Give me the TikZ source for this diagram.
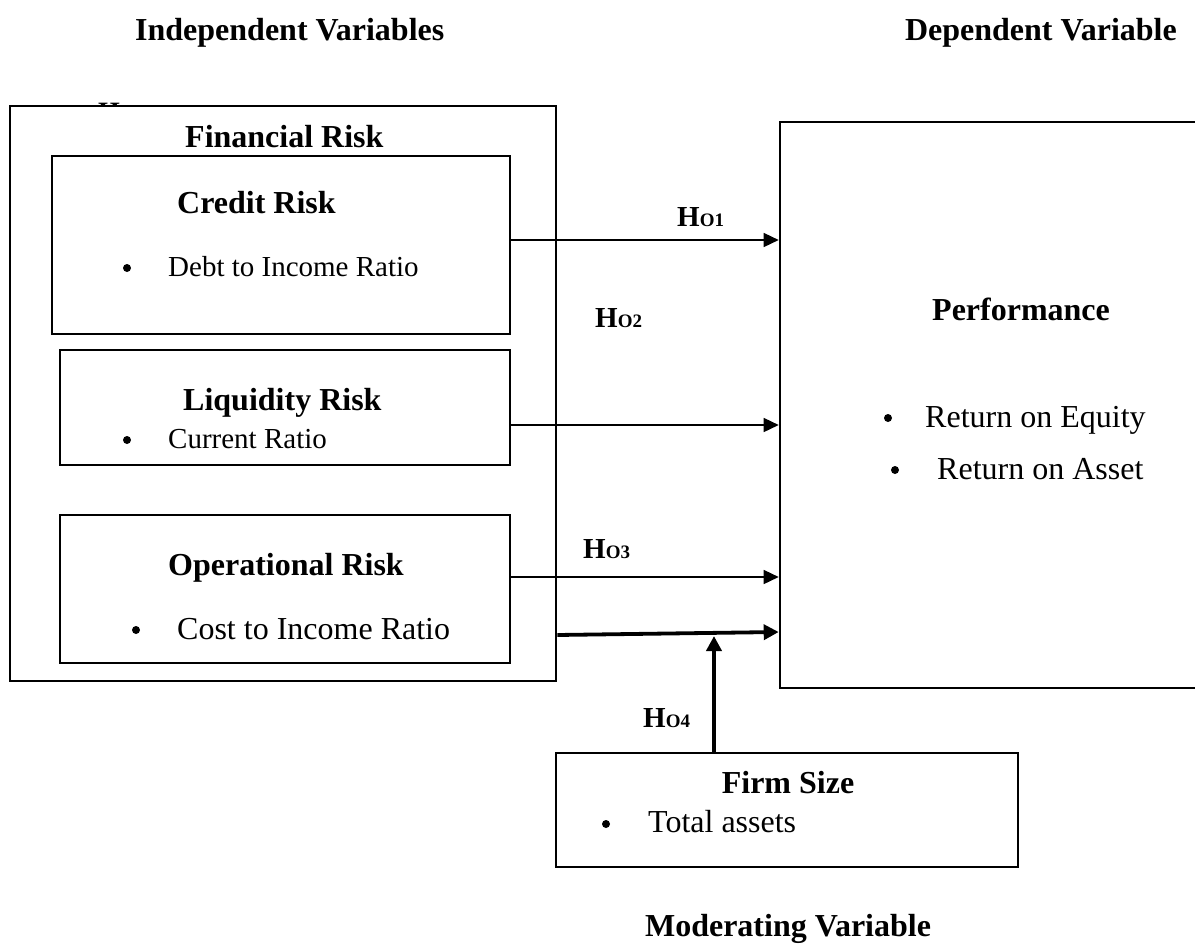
\documentclass[tikz,border=0pt]{standalone}
\usepackage{fontspec}
\setmainfont{Liberation Serif}
\usetikzlibrary{arrows.meta}
\newcommand{\bigtxt}{\fontsize{32}{38}\selectfont}
\newcommand{\hyp}[1]{\fontsize{29}{30}\selectfont\textbf{H\fontsize{19}{20}\selectfont O#1}}
\tikzset{
  thinbox/.style={draw, line width=1.5pt, minimum width=#1, inner sep=0pt},
  thickbox/.style={draw, line width=2.6pt, inner sep=0pt},
  lbl/.style={inner sep=0pt, anchor=base west, font=\bigtxt},
  ttl/.style={inner sep=0pt, font=\bigtxt\bfseries},
  bul/.style={circle, fill=black, inner sep=0pt, minimum size=8pt},
  thinarrow/.style={line width=1.5pt, -{Triangle[length=15pt,width=14pt]}},
  thickarrow/.style={line width=3.8pt, -{Triangle[length=15pt,width=15pt]}},
}
\begin{document}
\begin{tikzpicture}[x=1pt,y=-1pt]
\useasboundingbox (0,0) rectangle (1195,948);
% titles
\node[ttl, anchor=base west] (tind) at (135,40) {Independent Variables};
\node[ttl, anchor=base east] (tdep) at (1177,40) {Dependent Variable};
\node[ttl, anchor=base] (tmod) at (788,936) {Moderating Variable};
% peeking H
\begin{scope}
\clip (90,90) rectangle (140,105);
\node[inner sep=0pt, anchor=base west, font=\fontsize{28}{30}\selectfont\bfseries] (hpeek) at (98,121) {H};
\end{scope}
% boxes
\node[thickbox, minimum width=546pt, minimum height=575pt] (fin) at (283,393.5) {};
\node[thinbox=458pt, minimum height=178pt] (credit) at (281,245) {};
\node[thinbox=450pt, minimum height=115pt] (liq) at (285,407.5) {};
\node[thinbox=450pt, minimum height=148pt] (oper) at (285,589) {};
\node[thickbox, minimum width=420pt, minimum height=566pt] (perf) at (990,405) {};
\node[draw, line width=2pt, inner sep=0pt, minimum width=462pt, minimum height=114pt] (firm) at (787,810) {};
% texts
\node[ttl, anchor=base west] (tfin) at (185,147) {Financial Risk};
\node[ttl, anchor=base west] (tcred) at (177,213) {Credit Risk};
\node[bul] (b1) at (127,268) {};
\node[lbl, font=\fontsize{29}{34}\selectfont] (t1) at (168,276) {Debt to Income Ratio};
\node[ttl, anchor=base west] (tliq) at (183,410) {Liquidity Risk};
\node[bul] (b2) at (127,440) {};
\node[lbl, font=\fontsize{29}{34}\selectfont] (t2) at (168,448) {Current Ratio};
\node[ttl, anchor=base west] (toper) at (168,575) {Operational Risk};
\node[bul] (b3) at (136,630) {};
\node[lbl] (t3) at (177,639) {Cost to Income Ratio};
\node[ttl, anchor=base west] (tperf) at (932,320) {Performance};
\node[bul] (b4) at (888,418) {};
\node[lbl] (t4) at (925,427) {Return on Equity};
\node[bul] (b5) at (895,470) {};
\node[lbl] (t5) at (937,479) {Return on Asset};
\node[ttl, anchor=base] (tfirm) at (788,793) {Firm Size};
\node[bul] (b6) at (606,824) {};
\node[lbl] (t6) at (648,832) {Total assets};
% hypothesis labels
\node[inner sep=0pt, anchor=base west] (h1) at (677,226) {\hyp{1}};
\node[inner sep=0pt, anchor=base west] (h2) at (595,327) {\hyp{2}};
\node[inner sep=0pt, anchor=base west] (h3) at (583,558) {\hyp{3}};
\node[inner sep=0pt, anchor=base west] (h4) at (643,727) {\hyp{4}};
% arrows
\draw[thinarrow] ([yshift=5pt]credit.east) -- ([yshift=165pt]perf.west);
\draw[thinarrow] ([yshift=-17.5pt]liq.east) -- ([yshift=-20pt]perf.west);
\draw[thinarrow] ([yshift=12pt]oper.east) -- ([yshift=-172pt]perf.west);
\draw[thickarrow] ([yshift=-241.5pt]fin.east) -- ([yshift=-227pt]perf.west);
\coordinate (meet) at (714,636);
\draw[thickarrow] ([xshift=-73pt]firm.north) -- (meet);
\end{tikzpicture}
\end{document}
